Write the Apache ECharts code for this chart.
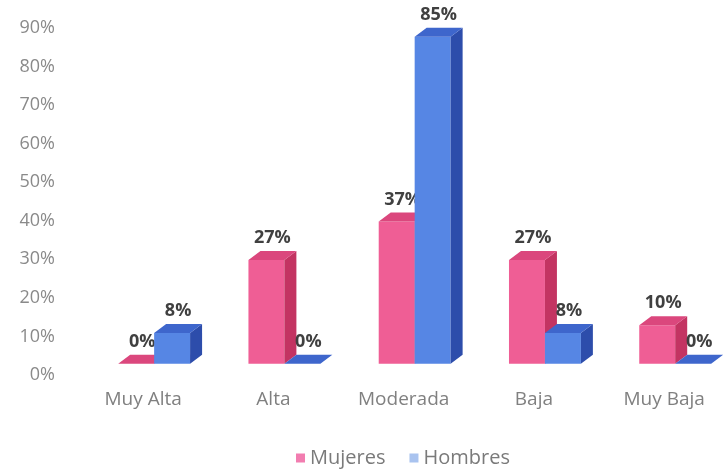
<!DOCTYPE html>
<html>
<head>
<meta charset="utf-8">
<script src="https://cdn.jsdelivr.net/npm/echarts@6/dist/echarts.min.js"></script>
<style>
  html, body { margin: 0; padding: 0; background: #fff; }
  #chart { width: 726px; height: 469px; }
</style>
</head>
<body>
<div id="chart"></div>
<script>
var categories = ['Muy Alta', 'Alta', 'Moderada', 'Baja', 'Muy Baja'];
var mujeres = [0, 27, 37, 27, 10];
var hombres = [8, 0, 85, 8, 0];
var yTicks = [0, 10, 20, 30, 40, 50, 60, 70, 80, 90];

// colores de las caras: frente, arriba, lado
var faces = [
    { front: '#ef5e95', top: '#db477d', side: '#c33462', legend: '#f27db0' },
    { front: '#5686e4', top: '#3e66cc', side: '#2d4dab', legend: '#a9c3ef' }
];

function toData(arr) {
    var out = [];
    for (var i = 0; i < arr.length; i++) out.push([i, arr[i]]);
    return out;
}

/// caja 3D para cada barra
function renderBox(params, api) {
    var idx = api.value(0);
    var val = api.value(1);
    var f = faces[params.seriesIndex];
    var catW = api.size([1, 0])[0];
    var w = catW * 0.276;
    var base = api.coord([idx, 0]);
    var top = api.coord([idx, val])[1];
    var bottom = base[1];
    var x0 = base[0] + (params.seriesIndex === 0 ? -w : 0);
    var dx = 12, dy = 9;
    return {
        type: 'group',
        children: [
            {
                type: 'rect',
                shape: { x: x0, y: top, width: w, height: bottom - top },
                style: { fill: f.front }
            },
            {
                type: 'polygon',
                shape: { points: [[x0 + w, top], [x0 + w + dx, top - dy], [x0 + w + dx, bottom - dy], [x0 + w, bottom]] },
                style: { fill: f.side }
            },
            {
                type: 'polygon',
                shape: { points: [[x0, top], [x0 + dx, top - dy], [x0 + w + dx, top - dy], [x0 + w, top]] },
                style: { fill: f.top }
            },
            {
                type: 'text',
                style: {
                    text: val + '%',
                    x: x0 + w / 2 + dx / 2,
                    y: top - dy - 4,
                    align: 'center',
                    verticalAlign: 'bottom',
                    fill: '#404040',
                    font: 'bold 18px "Open Sans", sans-serif'
                }
            }
        ]
    };
}

var option = {
    animation: false,
    textStyle: { fontFamily: '"Open Sans", sans-serif' },
    legend: {
        data: ['Mujeres', 'Hombres'],
        top: 443,
        left: 291,
        icon: 'rect',
        itemWidth: 9,
        itemHeight: 9,
        itemGap: 24,
        textStyle: { color: '#7a7a7a', fontSize: 20, fontFamily: '"Open Sans", sans-serif' }
    },
    grid: {
        left: 89,
        right: 0,
        top: 28,
        bottom: 94
    },
    // eje x numerico: una unidad por categoria
    xAxis: {
        type: 'value',
        min: -0.5,
        max: 4.39,
        interval: 0.5,
        axisLine: { show: false },
        axisTick: { show: false },
        splitLine: { show: false },
        axisLabel: {
            margin: 15,
            showMaxLabel: false,
            formatter: function (v) {
                return Number.isInteger(v) && categories[v] ? '{a|' + categories[v] + '}' : '';
            },
            rich: { a: { padding: [0, 22, 0, 0], color: '#808080', fontSize: 19, fontFamily: '"Open Sans", sans-serif' } }
        }
    },
    yAxis: [
        {
            type: 'value',
            min: yTicks[0],
            max: yTicks[yTicks.length - 1],
            interval: 10,
            axisLine: { show: false },
            axisTick: { show: false },
            splitLine: { show: false },
            axisLabel: {
                margin: 34,
                color: '#8a8a8a',
                fontSize: 18,
                formatter: '{value}%'
            }
        },
        {
            type: 'value',
            min: -2.9,
            max: 87.3,
            show: false,
            splitLine: { show: false }
        }
    ],
    series: [
        {
            name: 'Mujeres',
            type: 'custom',
            yAxisIndex: 1,
            renderItem: renderBox,
            itemStyle: { color: faces[0].legend },
            encode: { x: 0, y: 1 },
            data: toData(mujeres)
        },
        {
            name: 'Hombres',
            type: 'custom',
            yAxisIndex: 1,
            renderItem: renderBox,
            itemStyle: { color: faces[1].legend },
            encode: { x: 0, y: 1 },
            data: toData(hombres)
        }
    ]
};

var chart = echarts.init(document.getElementById('chart'));
chart.setOption(option);
</script>
</body>
</html>
